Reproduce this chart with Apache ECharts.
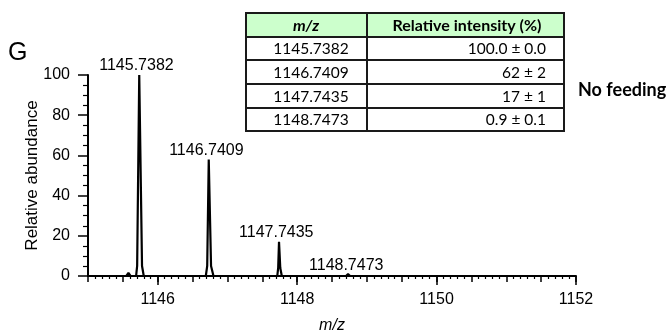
<!DOCTYPE html>
<html>
<head>
<meta charset="utf-8">
<script src="https://cdn.jsdelivr.net/npm/echarts@6/dist/echarts.min.js"></script>
<style>
  * { margin: 0; padding: 0; }
  body { background: #fff; }
  #chart { width: 672px; height: 333px; }
</style>
</head>
<body>
<div id="chart"></div>
<script>
// spectrum profile (m/z, relative abundance)
var mzProfile = [1145.00, 1145.55, 1145.58, 1145.61,
  1145.69, 1145.705, 1145.735, 1145.745, 1145.775, 1145.80,
  1146.69, 1146.71, 1146.732, 1146.740, 1146.765, 1146.80,
  1147.715, 1147.728, 1147.740, 1147.745, 1147.758, 1147.78,
  1148.70, 1148.73, 1148.76, 1152.00];
var abundanceProfile = [0, 0, 1.5, 0,
  0, 5, 100, 100, 5, 0,
  0, 5, 58, 58, 5, 0,
  0, 4, 17, 17, 4, 0,
  0, 0.9, 0, 0];

// peak labels
var peakMz = [1145.7382, 1146.7409, 1147.7435, 1148.7473];
var peakHeight = [100, 58, 17, 0.9];
var peakLabels = ['1145.7382', '1146.7409', '1147.7435', '1148.7473'];

// axis ticks
var xLabelValues = [1146, 1148, 1150, 1152];

// table
var tableHeader = ['m/z', 'Relative intensity (%)'];
var tableMz = ['1145.7382', '1146.7409', '1147.7435', '1148.7473'];
var tableIntensity = ['100.0 ± 0.0', '62 ± 2', '17 ± 1', '0.9 ± 0.1'];

var axisFont = 'Liberation Sans, Arial, sans-serif';
var tableFont = 'Lato, sans-serif';

function buildTable() {
  var left = 246, right = 564, split = 367;
  var rows = [13, 37, 60, 84, 108, 131];
  var els = [];
  els.push({ type: 'rect', shape: { x: left, y: rows[0], width: right - left, height: rows[1] - rows[0] },
    style: { fill: '#ccffcc' } });
  rows.forEach(function (y) {
    els.push({ type: 'line', shape: { x1: left - 1, y1: y, x2: right + 1, y2: y },
      style: { stroke: '#1a1a1a', lineWidth: 2 } });
  });
  [left, split, right].forEach(function (x) {
    els.push({ type: 'line', shape: { x1: x, y1: rows[0], x2: x, y2: rows[rows.length - 1] },
      style: { stroke: '#1a1a1a', lineWidth: 2 } });
  });
  var mid = function (i) { return (rows[i] + rows[i + 1]) / 2 + 0.5; };
  var txt = function (x, y, text, font, align) {
    return { type: 'text', x: x, y: y, style: { text: text, font: font, fill: '#000',
      textAlign: align, textVerticalAlign: 'middle', align: align, verticalAlign: 'middle' } };
  };
  els.push(txt(306, mid(0), tableHeader[0], 'italic bold 16px ' + tableFont, 'center'));
  els.push(txt(467, mid(0), tableHeader[1], 'bold 16px ' + tableFont, 'center'));
  for (var i = 0; i < tableMz.length; i++) {
    els.push(txt(311, mid(i + 1), tableMz[i], '15.5px ' + tableFont, 'center'));
    els.push(txt(546, mid(i + 1), tableIntensity[i], '15.5px ' + tableFont, 'right'));
  }
  els.push(txt(578, 90, 'No feeding', 'bold 18px ' + tableFont, 'left'));
  els.push(txt(8, 53, 'G', '25px ' + axisFont, 'left'));
  return els;
}

var chart = echarts.init(document.getElementById('chart'), null, { renderer: 'canvas' });
chart.setOption({
  animation: false,
  backgroundColor: '#fff',
  grid: { left: 88, right: 96, top: 75, bottom: 57, containLabel: false, outerBoundsMode: 'none' },
  xAxis: [{
    type: 'value', min: 1145, max: 1152, interval: 0.5,
    name: 'm/z', nameLocation: 'middle', nameGap: 42, nameMoveOverlap: false,
    nameTextStyle: { fontFamily: axisFont, fontSize: 16, fontStyle: 'italic', color: '#000' },
    axisLine: { show: true, onZero: false, lineStyle: { color: '#000', width: 2 } },
    axisTick: { show: true, length: 6, lineStyle: { color: '#000', width: 1.5 } },
    minorTick: { show: true, splitNumber: 5, length: 3, lineStyle: { color: '#000', width: 1.2 } },
    axisLabel: {
      margin: 16, fontFamily: axisFont, fontSize: 16, color: '#000',
      formatter: function (v) {
        var r = Math.round(v);
        return (Math.abs(v - r) < 1e-6 && r % 2 === 0) ? String(r) : '';
      }
    },
    splitLine: { show: false }
  }, {
    type: 'value', min: 1145, max: 1152, position: 'bottom',
    axisLine: { show: false },
    axisTick: { show: true, length: 9, customValues: xLabelValues, lineStyle: { color: '#000', width: 1.5 } },
    axisLabel: { show: false },
    splitLine: { show: false }
  }],
  yAxis: {
    type: 'value', min: 0, max: 100, interval: 20,
    name: 'Relative abundance', nameLocation: 'middle', nameGap: 47, nameMoveOverlap: false,
    nameTextStyle: { fontFamily: axisFont, fontSize: 17, color: '#000' },
    axisLine: { show: true, lineStyle: { color: '#000', width: 2 } },
    axisTick: { show: true, length: 10, lineStyle: { color: '#000', width: 1.5 } },
    minorTick: { show: true, splitNumber: 4, length: 5, lineStyle: { color: '#000', width: 1.2 } },
    axisLabel: { margin: 18, fontFamily: axisFont, fontSize: 16, color: '#000' },
    splitLine: { show: false }
  },
  graphic: buildTable(),
  series: [{
    type: 'line',
    data: mzProfile.map(function (x, i) { return [x, abundanceProfile[i]]; }),
    showSymbol: false,
    symbol: 'none',
    lineStyle: { color: '#000', width: 2.2 },
    z: 3
  }, {
    type: 'scatter',
    data: peakMz.map(function (x, i) { return [x, peakHeight[i]]; }),
    symbolSize: 0,
    label: {
      show: true, position: 'top', distance: 1, offset: [-3, 0],
      fontFamily: axisFont, fontSize: 16, color: '#000', opacity: 1,
      formatter: function (p) { return peakLabels[p.dataIndex]; }
    },
    z: 4
  }]
});
</script>
</body>
</html>
